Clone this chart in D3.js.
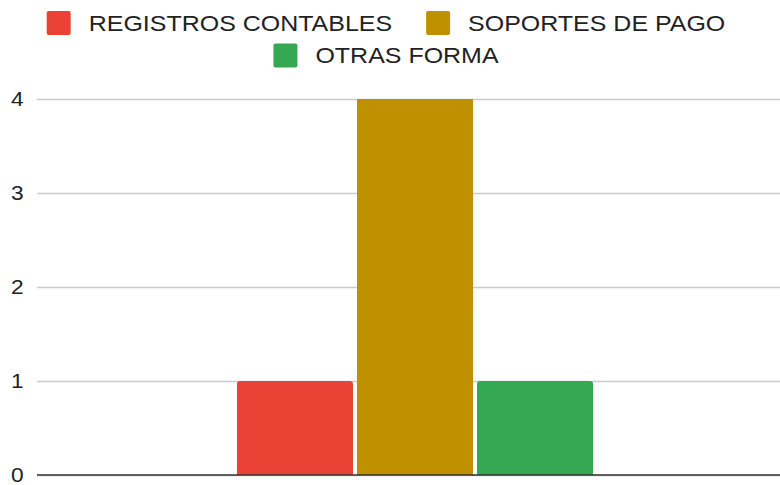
<!DOCTYPE html>
<html lang="es">
<head>
<meta charset="utf-8">
<title>Registros</title>
<script src="https://d3js.org/d3.v7.min.js"></script>
<style>
  body { margin: 0; background: #fff; }
  svg { display: block; font-family: Arial, "Liberation Sans", sans-serif; }
</style>
</head>
<body>
<div id="chart"></div>
<script>
// datos
const category = [""];
const seriesNames = ["REGISTROS CONTABLES", "SOPORTES DE PAGO", "OTRAS FORMA"];
const seriesValues = [1, 4, 1];
const seriesColors = ["#EA4335", "#BF9000", "#34A853"];
const yTicks = [0, 1, 2, 3, 4];

const width = 780, height = 485;
const margin = { top: 99, right: 0, bottom: 10, left: 37 };
const stretch = 1.135; // la imagen original esta algo estirada en horizontal

const svg = d3.select("#chart").append("svg")
  .attr("width", width)
  .attr("height", height);

function widen(sel) {
  sel.each(function () {
    const w = this.getComputedTextLength();
    d3.select(this).attr("textLength", w * stretch).attr("lengthAdjust", "spacingAndGlyphs");
  });
}

const y = d3.scaleLinear()
  .domain([0, 4])
  .range([height - margin.bottom, margin.top]);

const x0 = d3.scaleBand()
  .domain(category)
  .range([50, 780])
  .paddingOuter(0.525);

const x1 = d3.scaleBand()
  .domain(seriesNames)
  .range([0, x0.bandwidth()])
  .paddingInner(0.0333);

// grid
const grid = svg.append("g")
  .attr("transform", `translate(${margin.left},0)`)
  .call(d3.axisLeft(y).tickValues(yTicks).tickSize(-(width - margin.left)).tickFormat(""));
grid.select(".domain").remove();
grid.selectAll(".tick line").attr("stroke", "#cccccc").attr("stroke-width", 1.5);

// labels eje y
svg.selectAll(".ylab")
  .data(yTicks)
  .join("text")
  .attr("class", "ylab")
  .attr("x", 11)
  .attr("y", d => y(d))
  .attr("dy", "0.36em")
  .attr("font-size", 20)
  .attr("fill", "#222")
  .text(d => d)
  .call(widen);

// barras
function topRounded(x, yTop, w, h, r) {
  return `M${x},${yTop + h}V${yTop + r}Q${x},${yTop} ${x + r},${yTop}H${x + w - r}Q${x + w},${yTop} ${x + w},${yTop + r}V${yTop + h}Z`;
}

svg.append("g")
  .selectAll("path")
  .data(seriesNames.map((n, i) => ({ name: n, value: seriesValues[i], color: seriesColors[i] })))
  .join("path")
  .attr("fill", d => d.color)
  .attr("d", d => {
    const bx = x0(category[0]) + x1(d.name);
    const by = y(d.value);
    return topRounded(bx, by, x1.bandwidth(), y(0) - by, d.value < 4 ? 3 : 0);
  });

// base
svg.append("line")
  .attr("x1", margin.left).attr("x2", width)
  .attr("y1", y(0)).attr("y2", y(0))
  .attr("stroke", "#333").attr("stroke-width", 1.5);

// leyenda
const legendRows = [[0, 1], [2]];
const legendY = [23, 55.5];
const fontSize = 22;
legendRows.forEach((row, ri) => {
  const g = svg.append("g");
  let cx = 0;
  row.forEach(si => {
    const item = g.append("g").attr("transform", `translate(${cx},0)`);
    item.append("rect")
      .attr("x", 0).attr("y", legendY[ri] - 12)
      .attr("width", 24).attr("height", 24)
      .attr("rx", 2)
      .attr("fill", seriesColors[si]);
    const t = item.append("text")
      .attr("x", 42).attr("y", legendY[ri])
      .attr("dy", "0.36em")
      .attr("font-size", fontSize)
      .attr("fill", "#222")
      .text(seriesNames[si])
      .call(widen);
    cx += 42 + (+t.attr("textLength")) + 34;
  });
  const total = cx - 34;
  g.attr("transform", `translate(${386 - total / 2},0)`);
});
</script>
</body>
</html>
